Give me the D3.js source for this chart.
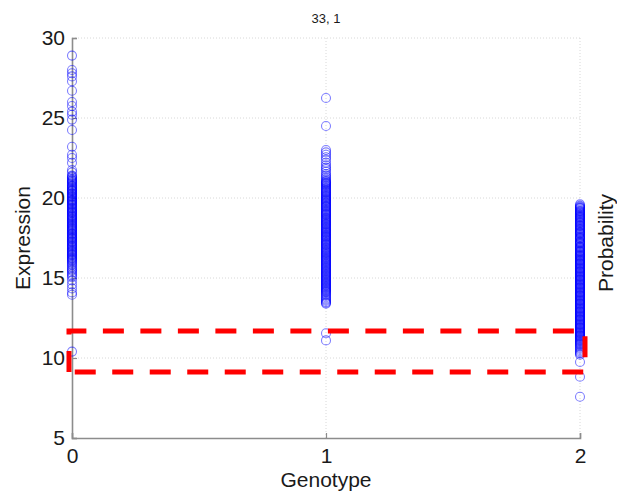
<!DOCTYPE html>
<html>
<head>
<meta charset="utf-8">
<script src="https://cdn.jsdelivr.net/npm/d3@7"></script>
<style>
  html, body { margin: 0; padding: 0; background: #fff; }
  svg { display: block; font-family: "Liberation Sans", Arial, sans-serif; }
</style>
</head>
<body>
<svg id="chart" width="617" height="493"></svg>
<script>
// ---- data ----
const title = "33, 1";
const xLabel = "Genotype";
const yLabel = "Expression";
const yLabelRight = "Probability";
const genotypes = [0, 1, 2];
const xTicks = [0, 1, 2];
const yTicks = [5, 10, 15, 20, 25, 30];

const expr0 = [28.9, 28.0, 27.8, 27.6, 27.3, 26.7, 26.0, 25.75, 25.4, 25.2, 24.9, 24.25, 23.2, 22.7, 22.5, 22.2, 21.75,
  21.6, 21.4, 21.35, 21.3, 21.22, 21.15, 21.1, 21.05, 21.0, 20.95, 20.88, 20.8, 20.76, 20.72, 20.66, 20.6, 20.55, 20.5,
  20.46, 20.43, 20.36, 20.3, 20.26, 20.22, 20.15, 20.1, 20.06, 20.02, 19.95, 19.9, 19.86, 19.83, 19.79, 19.75, 19.68,
  19.62, 19.58, 19.55, 19.48, 19.41, 19.37, 19.33, 19.26, 19.2, 19.16, 19.12, 19.07, 19.03, 18.96, 18.9, 18.86, 18.82,
  18.76, 18.7, 18.66, 18.61, 18.56, 18.52, 18.46, 18.4, 18.35, 18.3, 18.26, 18.21, 18.15, 18.1, 18.06, 18.02, 17.97,
  17.93, 17.86, 17.8, 17.76, 17.72, 17.66, 17.6, 17.55, 17.51, 17.46, 17.42, 17.36, 17.3, 17.26, 17.22, 17.16, 17.1,
  17.05, 17.0, 16.96, 16.91, 16.86, 16.8, 16.75, 16.7, 16.66, 16.62, 16.56, 16.5, 16.46, 16.42, 16.36, 16.3, 16.25,
  16.2, 16.15, 16.1, 16.03, 15.95, 15.88, 15.8, 15.7, 15.6, 15.52, 15.45, 15.35, 15.25, 15.15, 15.05, 14.85, 14.6,
  14.35, 14.1, 13.95, 10.4];
const expr1 = [26.25, 24.5, 23.0, 22.85, 22.7, 22.55, 22.4, 22.2, 22.05, 21.9, 21.8, 21.65, 21.5, 21.4, 21.3, 21.2, 21.1,
  21.04, 20.98, 20.95, 20.9, 20.85, 20.8, 20.75, 20.69, 20.63, 20.58, 20.52, 20.46, 20.4, 20.36, 20.31, 20.25, 20.2,
  20.15, 20.1, 20.05, 20.0, 19.95, 19.9, 19.86, 19.82, 19.76, 19.7, 19.66, 19.61, 19.55, 19.5, 19.46, 19.42, 19.36,
  19.3, 19.25, 19.2, 19.15, 19.1, 19.05, 19.0, 18.96, 18.92, 18.86, 18.8, 18.75, 18.71, 18.65, 18.6, 18.55, 18.5,
  18.45, 18.4, 18.36, 18.32, 18.26, 18.2, 18.15, 18.1, 18.05, 18.0, 17.95, 17.9, 17.85, 17.81, 17.75, 17.7, 17.65,
  17.6, 17.56, 17.52, 17.46, 17.4, 17.35, 17.3, 17.25, 17.2, 17.15, 17.1, 17.06, 17.02, 16.95, 16.9, 16.85, 16.8,
  16.75, 16.7, 16.65, 16.6, 16.55, 16.5, 16.45, 16.41, 16.35, 16.3, 16.25, 16.2, 16.15, 16.1, 16.05, 16.0, 15.95,
  15.9, 15.85, 15.8, 15.75, 15.7, 15.65, 15.6, 15.55, 15.5, 15.45, 15.4, 15.35, 15.3, 15.25, 15.2, 15.15, 15.1, 15.05,
  15.0, 14.95, 14.9, 14.85, 14.8, 14.75, 14.7, 14.65, 14.6, 14.55, 14.5, 14.45, 14.4, 14.35, 14.3, 14.25, 14.2, 14.15,
  14.1, 14.02, 13.95, 13.88, 13.8, 13.72, 13.65, 13.58, 13.5, 13.45, 13.4, 11.55, 11.1];
const expr2 = [19.6, 19.52, 19.47, 19.42, 19.38, 19.35, 19.28, 19.22, 19.18, 19.14, 19.1, 19.05, 19.0, 18.95, 18.9,
  18.86, 18.82, 18.78, 18.75, 18.7, 18.65, 18.6, 18.55, 18.5, 18.46, 18.42, 18.36, 18.3, 18.26, 18.22, 18.16, 18.1,
  18.06, 18.02, 17.96, 17.9, 17.86, 17.83, 17.79, 17.75, 17.68, 17.6, 17.56, 17.52, 17.48, 17.45, 17.38, 17.3, 17.26,
  17.22, 17.18, 17.15, 17.08, 17.0, 16.96, 16.92, 16.88, 16.85, 16.78, 16.72, 16.68, 16.65, 16.6, 16.55, 16.5, 16.45,
  16.41, 16.38, 16.34, 16.3, 16.25, 16.2, 16.16, 16.12, 16.08, 16.05, 16.0, 15.95, 15.91, 15.88, 15.84, 15.8, 15.75,
  15.7, 15.66, 15.62, 15.58, 15.55, 15.5, 15.45, 15.41, 15.38, 15.34, 15.3, 15.25, 15.2, 15.16, 15.12, 15.08, 15.05,
  15.0, 14.95, 14.91, 14.88, 14.84, 14.8, 14.75, 14.7, 14.66, 14.62, 14.58, 14.55, 14.5, 14.45, 14.41, 14.38, 14.34,
  14.3, 14.25, 14.2, 14.16, 14.12, 14.08, 14.05, 14.0, 13.95, 13.91, 13.88, 13.84, 13.8, 13.75, 13.7, 13.66, 13.62,
  13.58, 13.55, 13.5, 13.45, 13.41, 13.38, 13.34, 13.3, 13.25, 13.2, 13.16, 13.12, 13.08, 13.05, 13.0, 12.95, 12.91,
  12.88, 12.84, 12.8, 12.75, 12.7, 12.66, 12.62, 12.58, 12.55, 12.5, 12.45, 12.41, 12.38, 12.34, 12.3, 12.25, 12.2,
  12.16, 12.12, 12.08, 12.05, 12.0, 11.95, 11.91, 11.88, 11.84, 11.8, 11.75, 11.7, 11.66, 11.62, 11.58, 11.55, 11.5,
  11.45, 11.41, 11.38, 11.34, 11.3, 11.25, 11.2, 11.15, 11.1, 11.05, 11.0, 10.95, 10.9, 10.85, 10.8, 10.72, 10.65,
  10.58, 10.5, 10.42, 10.35, 10.28, 10.2, 9.75, 8.83, 7.58];
const expression = [expr0, expr1, expr2];
const bandLow = 9.12;
const bandHigh = 11.69;

// ---- layout ----
const svg = d3.select("#chart");
const mLeft = 72, mRight = 580, mTop = 38, mBottom = 438;
const x = d3.scaleLinear().domain([0, 2]).range([mLeft, mRight]);
const y = d3.scaleLinear().domain([5, 30]).range([mBottom, mTop]);

// grid (dotted)
const grid = svg.append("g").attr("stroke", "#d8d8d8").attr("stroke-width", 1).attr("stroke-dasharray", "1,2");
grid.selectAll("line.h").data(yTicks.filter(d => d !== 5)).join("line").attr("class", "h")
  .attr("x1", mLeft).attr("x2", mRight).attr("y1", d => y(d)).attr("y2", d => y(d));
grid.selectAll("line.v").data(xTicks.filter(d => d !== 0)).join("line").attr("class", "v")
  .attr("x1", d => x(d)).attr("x2", d => x(d)).attr("y1", mTop).attr("y2", mBottom);

// axes
const yAxis = d3.axisLeft(y).tickValues(yTicks).tickSize(-5).tickPadding(7).tickFormat(d3.format("d"));
const xAxis = d3.axisBottom(x).tickValues(xTicks).tickSize(-5).tickPadding(10).tickFormat(d3.format("d"));

const gy = svg.append("g").attr("transform", `translate(${mLeft},0)`).call(yAxis);
const gx = svg.append("g").attr("transform", `translate(0,${mBottom})`).call(xAxis);
[gx, gy].forEach(g => {
  g.select(".domain").attr("stroke", "#8c8c8c").attr("stroke-width", 1.6);
  g.selectAll(".tick line").attr("stroke", "#8c8c8c").attr("stroke-width", 1.2);
  g.selectAll(".tick text").attr("fill", "#1a1a1a").attr("font-size", 21)
    .attr("font-family", "'Liberation Sans', Arial, sans-serif");
});
gx.selectAll(".tick text").attr("dy", "0.71em");

// points
const pts = svg.append("g").attr("fill", "none").attr("stroke", "#0000ff").attr("stroke-opacity", 0.5).attr("stroke-width", 1.1);
genotypes.forEach((gt, i) => {
  pts.append("g").selectAll("circle").data(expression[i]).join("circle")
    .attr("cx", x(gt)).attr("cy", d => y(d)).attr("r", 4.5);
});

// red dashed band (drawn from bottom-left, up, across, down, back)
const bx0 = x(genotypes[0]) - 3, bx1 = x(genotypes[2]) + 5;
const band = d3.path();
band.moveTo(bx0, y(bandLow));
band.lineTo(bx0, y(bandHigh));
band.lineTo(bx1, y(bandHigh));
band.lineTo(bx1, y(bandLow));
band.lineTo(bx0, y(bandLow));
svg.append("path").attr("d", band.toString())
  .attr("fill", "none").attr("stroke", "#ff0000").attr("stroke-width", 5)
  .attr("stroke-dasharray", "21,16.5");

// labels
svg.append("text").attr("x", (mLeft + mRight) / 2).attr("y", 23).attr("text-anchor", "middle")
  .attr("font-size", 13).attr("fill", "#1a1a1a").text(title);
svg.append("text").attr("x", (mLeft + mRight) / 2).attr("y", 487).attr("text-anchor", "middle")
  .attr("font-size", 21).attr("fill", "#1a1a1a").text(xLabel);
svg.append("text").attr("transform", `translate(30,${(mTop + mBottom) / 2}) rotate(-90)`).attr("text-anchor", "middle")
  .attr("font-size", 21).attr("fill", "#1a1a1a").text(yLabel);
svg.append("text").attr("transform", `translate(613,${(mTop + mBottom) / 2 + 5}) rotate(-90)`).attr("text-anchor", "middle")
  .attr("font-size", 21).attr("fill", "#1a1a1a").text(yLabelRight);
</script>
</body>
</html>
